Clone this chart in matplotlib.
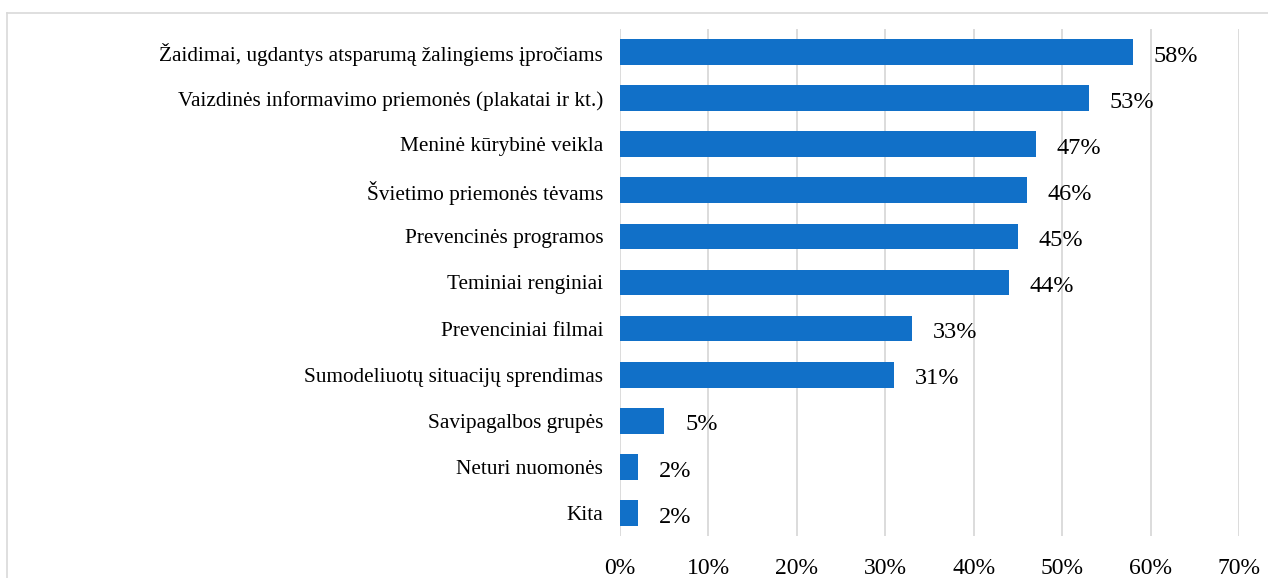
import matplotlib
matplotlib.use("Agg")
import matplotlib.pyplot as plt
from matplotlib.lines import Line2D
from matplotlib.ticker import FuncFormatter, MultipleLocator

categories = [
    "Žaidimai, ugdantys atsparumą žalingiems įpročiams",
    "Vaizdinės informavimo priemonės (plakatai ir kt.)",
    "Meninė kūrybinė veikla",
    "Švietimo priemonės tėvams",
    "Prevencinės programos",
    "Teminiai renginiai",
    "Prevenciniai filmai",
    "Sumodeliuotų situacijų sprendimas",
    "Savipagalbos grupės",
    "Neturi nuomonės",
    "Kita",
]
values = [58, 53, 47, 46, 45, 44, 33, 31, 5, 2, 2]

plt.rcParams['font.family'] = ['Liberation Serif', 'DejaVu Serif']

W, H = 1268, 578
fig = plt.figure(figsize=(W / 100, H / 100), dpi=100)
ax = fig.add_axes([620 / W, 1 - 536 / H, (1239 - 620) / W, (536 - 29) / H])

bar_color = "#1170C8"
ypos = list(range(len(categories)))
ax.barh(ypos, values, height=0.56, color=bar_color, zorder=3)
ax.set_ylim(len(categories) - 0.5, -0.5)
ax.set_xlim(0, 70)
ax.set_yticks(ypos)
ax.set_yticklabels(categories, fontsize=15.3)
ax.xaxis.set_major_locator(MultipleLocator(10))
ax.xaxis.set_major_formatter(FuncFormatter(lambda v, p: f"{int(round(v))}%"))
ax.tick_params(axis='x', labelsize=17, length=0, pad=16)
ax.tick_params(axis='y', length=0, pad=12)
ax.grid(axis='x', color="#D9D9D9", linewidth=1.3, zorder=0)
for s in ax.spines.values():
    s.set_visible(False)

for y, v in zip(ypos, values):
    ax.annotate(f"{v}%", xy=(v, y), xytext=(15, -3), textcoords="offset points",
                ha="left", va="center", fontsize=17.5)

# chart border
fig.add_artist(Line2D([7 / W, 7 / W], [0, 1 - 13 / H], transform=fig.transFigure,
                      color="#D9D9D9", linewidth=1.2))
fig.add_artist(Line2D([7 / W, 1], [1 - 13 / H, 1 - 13 / H], transform=fig.transFigure,
                      color="#D9D9D9", linewidth=1.2))

fig.savefig("out.png", dpi=100)
